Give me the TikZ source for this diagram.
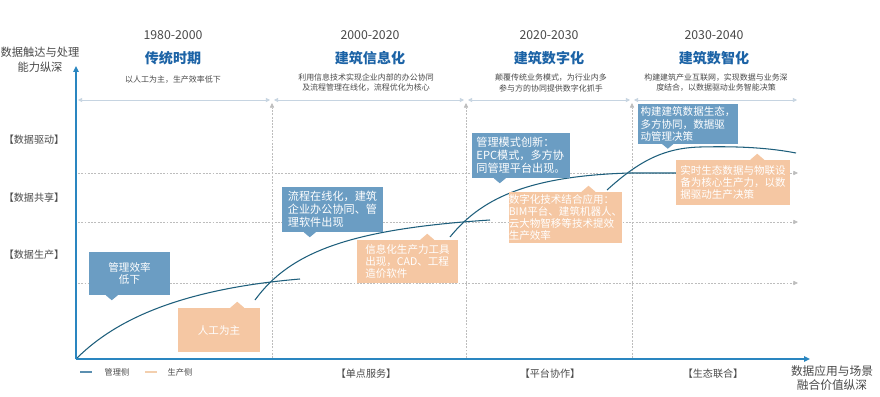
\documentclass[tikz,border=0pt]{standalone}
\usepackage{fontspec}
\setmainfont{Noto Sans CJK SC}
\usetikzlibrary{arrows.meta,calc}
\definecolor{axisblue}{HTML}{2A86C0}
\definecolor{curvecol}{HTML}{1E5F7C}
\definecolor{boxblue}{HTML}{6B9DC3}
\definecolor{boxorange}{HTML}{F5C7A3}
\definecolor{titleblue}{HTML}{1C63A6}
\definecolor{txtgray}{HTML}{4A4A4A}
\definecolor{gridgray}{HTML}{BDBDBD}
\definecolor{toparrow}{HTML}{C6D4E1}
\definecolor{legblue}{HTML}{5B8FB0}
\definecolor{legorange}{HTML}{F3CFAE}
\newcommand\fsz[2]{\fontsize{#1}{#2}\selectfont}
\begin{document}
\begin{tikzpicture}[x=0.03cm,y=-0.03cm,
  yearlbl/.style={font=\fsz{10.5}{12}, text=txtgray},
  titlelbl/.style={font=\fsz{12}{14}\bfseries, text=titleblue},
  desclbl/.style={font=\fsz{6.8}{8.6}, text=txtgray, align=center},
  ylbl/.style={font=\fsz{8.6}{10}, text=txtgray},
  axistitle/.style={font=\fsz{9.6}{12.5}, text=txtgray, align=center},
  bluebox/.style={fill=boxblue, text=white, font=\fsz{9}{10.4}, align=left, inner sep=0pt},
  orangebox/.style={fill=boxorange, text=white, font=\fsz{9}{10.4}, align=left, inner sep=0pt},
  gridln/.style={draw=gridgray, line width=0.5pt, dash pattern=on 1.6pt off 1.2pt},
  gridtip/.style={-{Triangle[length=4pt,width=3.6pt,fill=gridgray]}},
  toparr/.style={draw=toparrow, line width=0.7pt, {Triangle[length=3.5pt,width=3.5pt]}-{Triangle[length=3.5pt,width=3.5pt]}},
  axisst/.style={draw=axisblue, line width=1.5pt, -{Triangle[length=5pt,width=4.5pt]}},
  curvest/.style={draw=curvecol, line width=0.9pt},
  legln/.style={line width=2pt},
  legtxt/.style={font=\fsz{7}{8}, text=txtgray}
]
\useasboundingbox (0,0) rectangle (880,396);
\fill[white] (0,0) rectangle (880,396);

% coordinates
\coordinate (o) at (76,359);
\coordinate (ytop) at (76,66);
\coordinate (xend) at (810,359);

% top period arrows
\coordinate (t0) at (78,100);
\coordinate (t1a) at (270,100);
\coordinate (t1b) at (274,100);
\coordinate (t2a) at (464,100);
\coordinate (t2b) at (468,100);
\coordinate (t3a) at (630,100);
\coordinate (t3b) at (634,100);
\coordinate (t4) at (797,100);
\draw[toparr] (t0) -- (t1a);
\draw[toparr] (t1b) -- (t2a);
\draw[toparr] (t2b) -- (t3a);
\draw[toparr] (t3b) -- (t4);

% vertical dashed dividers
\foreach \xx/\nm in {272/v1,466/v2,632/v3}{
  \coordinate (\nm b) at (\xx,358);
  \coordinate (\nm t) at (\xx,103);
  \draw[gridln, gridtip] (\nm b) -- (\nm t);
}
% horizontal dashed levels
\foreach \yy/\nm in {173/h1,222/h2,283/h3}{
  \coordinate (\nm l) at (78,\yy);
  \coordinate (\nm r) at (798,\yy);
  \draw[gridln, gridtip] (\nm l) -- (\nm r);
}

% curves
\coordinate (cb) at (255,300);
\coordinate (cc) at (450,237);
\coordinate (cd) at (607,190);
\draw[curvest] (o) .. controls (110,325) and (170,290) .. (300,279);
\draw[curvest] (cb) .. controls (290,252) and (350,229) .. (490,220);
\draw[curvest] (cc) .. controls (480,200) and (525,176) .. (630,173) -- (700,173);
\draw[curvest] (cd) .. controls (640,160) and (665,148) .. (700,147) .. controls (740,146) and (770,148) .. (796,153);

% axes
\draw[axisst] (o) -- (ytop);
\draw[axisst] (o) -- (xend);

% axis titles
\node[axistitle] (yt) at (40,60) {数据触达与处理\\能力纵深};
\node[axistitle, font=\fsz{10}{12.5}] (xt) at (832,378) {数据应用与场景\\融合价值纵深};

% y labels
\node[ylbl] (l1) at (34,140) {【数据驱动】};
\node[ylbl] (l2) at (34,198) {【数据共享】};
\node[ylbl] (l3) at (34,255) {【数据生产】};

% bottom labels
\node[ylbl] (b1) at (366,374) {【单点服务】};
\node[ylbl] (b2) at (550,374) {【平台协作】};
\node[ylbl] (b3) at (713,374) {【生态联合】};

% legend
\coordinate (lg1a) at (80,372); \coordinate (lg1b) at (92,372);
\coordinate (lg2a) at (145,372); \coordinate (lg2b) at (157,372);
\draw[legln, legblue] (lg1a) -- (lg1b);
\draw[legln, legorange] (lg2a) -- (lg2b);
\node[legtxt] (lt1) at (117,372) {管理侧};
\node[legtxt] (lt2) at (180,372) {生产侧};

% column headers
\node[yearlbl] (y1) at (173,35) {1980-2000};
\node[yearlbl] (y2) at (370,35) {2000-2020};
\node[yearlbl] (y3) at (549,35) {2020-2030};
\node[yearlbl] (y4) at (714,35) {2030-2040};
\node[titlelbl] (n1) at (173,58) {传统时期};
\node[titlelbl] (n2) at (370,58) {建筑信息化};
\node[titlelbl] (n3) at (549,58) {建筑数字化};
\node[titlelbl] (n4) at (714,58) {建筑数智化};
\node[desclbl] (d1) at (173,80) {以人工为主，生产效率低下};
\node[desclbl] (d2) at (366,83) {利用信息技术实现企业内部的办公协同\\及流程管理在线化，流程优化为核心};
\node[desclbl] (d3) at (551,83) {颠覆传统业务模式，为行业内多\\参与方的协同提供数字化抓手};
\node[desclbl] (d4) at (716,83) {构建建筑产业互联网，实现数据与业务深\\度结合，以数据驱动业务智能决策};

% blue boxes (management side)
\node[bluebox, minimum width=2.43cm, minimum height=1.29cm, align=center] (m1) at (129.5,273.5) {管理效率\\低下};
\fill[boxblue] ($(m1.south west)+(17,0)$) -- ($(m1.south west)+(23,5)$) -- ($(m1.south west)+(29,0)$) -- cycle;

\node[bluebox, font=\fsz{9.5}{11}, minimum width=3.03cm, minimum height=1.35cm] (m2) at (332.5,209.5) {流程在线化，建筑\\企业办公协同、管\\理软件出现};
\fill[boxblue] ($(m2.south west)+(22,0)$) -- ($(m2.south west)+(28,5)$) -- ($(m2.south west)+(34,0)$) -- cycle;

\node[bluebox, font=\fsz{9.5}{11}, minimum width=2.94cm, minimum height=1.35cm] (m3) at (521,155.5) {管理模式创新：\\EPC模式，多方协\\同管理平台出现。};
\fill[boxblue] ($(m3.south west)+(22,0)$) -- ($(m3.south west)+(28,5)$) -- ($(m3.south west)+(34,0)$) -- cycle;

\node[bluebox, minimum width=3.0cm, minimum height=1.17cm] (m4) at (688,124) {构建建筑数据生态，\\多方协同，数据驱\\动管理决策};
\fill[boxblue] ($(m4.south west)+(24,0)$) -- ($(m4.south west)+(30,5)$) -- ($(m4.south west)+(36,0)$) -- cycle;

% orange boxes (production side)
\node[orangebox, minimum width=2.46cm, minimum height=1.32cm, align=center] (p1) at (219,330) {人工为主};
\fill[boxorange] ($(p1.north east)+(-30,0)$) -- ($(p1.north east)+(-23,-6)$) -- ($(p1.north east)+(-16,0)$) -- cycle;

\node[orangebox, minimum width=3.03cm, minimum height=1.29cm] (p2) at (407.5,261.5) {信息化生产力工具\\出现，CAD、工程\\造价软件};
\fill[boxorange] ($(p2.north east)+(-38,0)$) -- ($(p2.north east)+(-31,-6)$) -- ($(p2.north east)+(-24,0)$) -- cycle;

\node[orangebox, minimum width=3.33cm, minimum height=1.53cm] (p3) at (565.5,217.5) {数字化技术结合应用：\\BIM平台、建筑机器人、\\云大物智移等技术提效\\生产效率};
\fill[boxorange] ($(p3.north east)+(-41,0)$) -- ($(p3.north east)+(-34,-6)$) -- ($(p3.north east)+(-27,0)$) -- cycle;

\node[orangebox, minimum width=3.42cm, minimum height=1.35cm] (p4) at (733,182.5) {实时生态数据与物联设\\备为核心生产力，以数\\据驱动生产决策};
\fill[boxorange] ($(p4.north east)+(-40,0)$) -- ($(p4.north east)+(-33,-6)$) -- ($(p4.north east)+(-26,0)$) -- cycle;
\end{tikzpicture}
\end{document}
